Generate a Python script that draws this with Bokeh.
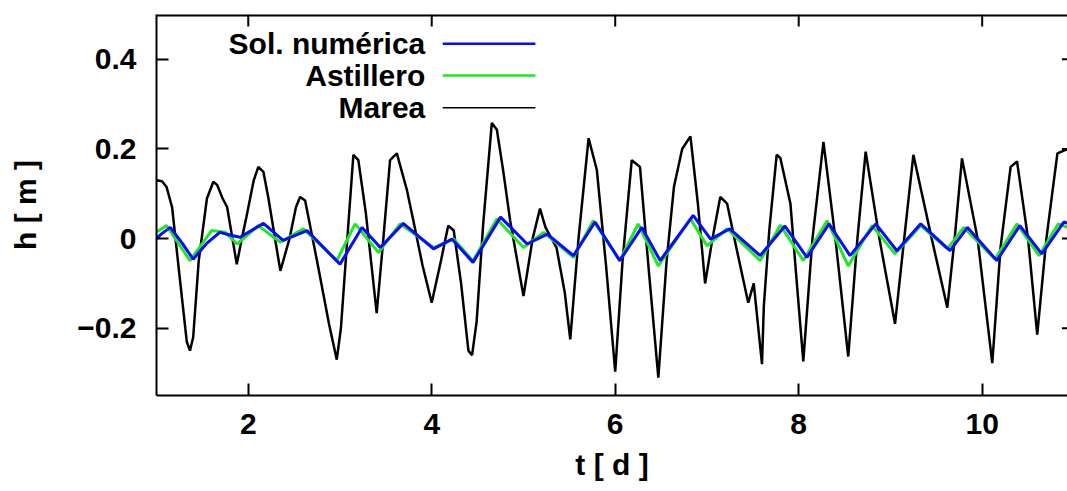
from bokeh.plotting import figure
from bokeh.models import Range1d, FixedTicker, LinearAxis, Label
from bokeh.embed import file_html
from bokeh.resources import INLINE

# ---------------- data ----------------
t_marea = [1.0, 1.06, 1.11, 1.17, 1.26, 1.33, 1.365, 1.40, 1.46, 1.55, 1.62, 1.66, 1.72, 1.77,
           1.875, 1.93, 1.98, 2.06, 2.11, 2.165, 2.22, 2.35, 2.45, 2.52, 2.565, 2.62, 2.75, 2.88,
           2.965, 3.01, 3.08, 3.146, 3.2, 3.28, 3.40, 3.46, 3.546, 3.62, 3.66, 3.73, 3.80, 3.90,
           4.0, 4.10, 4.18, 4.24, 4.32, 4.40, 4.44, 4.49, 4.56, 4.655, 4.71, 4.78, 4.855, 5.0,
           5.1, 5.18, 5.24, 5.36, 5.45, 5.51, 5.6, 5.71, 5.80, 5.9, 6.0, 6.08, 6.18, 6.27, 6.37,
           6.47, 6.56, 6.64, 6.73, 6.82, 6.9, 6.98, 7.06, 7.145, 7.22, 7.32, 7.45, 7.51, 7.56,
           7.60, 7.62, 7.68, 7.76, 7.80, 7.91, 7.98, 8.05, 8.15, 8.27, 8.40, 8.54, 8.64, 8.73,
           8.88, 9.05, 9.15, 9.25, 9.45, 9.62, 9.70, 9.78, 9.95, 10.11, 10.20, 10.31, 10.38,
           10.5, 10.60, 10.70, 10.82, 10.91, 11.0]
h_marea = [0.13, 0.128, 0.115, 0.07, -0.10, -0.23, -0.25, -0.22, -0.05, 0.09, 0.127, 0.12, 0.09, 0.07,
           -0.057, 0.0, 0.048, 0.13, 0.16, 0.149, 0.09, -0.072, 0.0, 0.07, 0.093, 0.085, -0.05, -0.19,
           -0.27, -0.2, 0.0, 0.187, 0.175, 0.06, -0.166, -0.03, 0.175, 0.19, 0.16, 0.108, 0.04, -0.06,
           -0.143, -0.05, 0.029, 0.018, -0.10, -0.25, -0.26, -0.184, 0.03, 0.258, 0.243, 0.15, 0.04, -0.128,
           0.0, 0.067, 0.025, -0.02, -0.12, -0.225, 0.0, 0.224, 0.153, -0.06, -0.297, -0.05, 0.175, 0.16, -0.08,
           -0.31, -0.05, 0.115, 0.2, 0.228, 0.08, -0.10, 0.0, 0.093, 0.078, -0.02, -0.143, -0.10, -0.2,
           -0.28, -0.15, 0.02, 0.187, 0.18, 0.078, -0.1, -0.274, 0.0, 0.216, 0.0, -0.263, 0.0, 0.194,
           0.0, -0.19, 0.0, 0.187, 0.0, -0.154, 0.0, 0.179, 0.0, -0.278, -0.02, 0.16, 0.172,
           0.0, -0.214, 0.0, 0.19, 0.198, 0.2]

t_num = [1.0, 1.05, 1.15, 1.28, 1.40, 1.55, 1.69, 1.80, 1.91, 2.165, 2.38, 2.64, 3.0, 3.24, 3.44,
         3.69, 4.02, 4.22, 4.45, 4.75, 5.04, 5.26, 5.545, 5.78, 6.05, 6.29, 6.49, 6.85, 7.04, 7.25,
         7.58, 7.85, 8.09, 8.33, 8.56, 8.84, 9.07, 9.33, 9.65, 9.84, 10.16, 10.41, 10.65, 10.89, 11.0]
h_num = [0.0, 0.01, 0.025, -0.01, -0.046, -0.01, 0.014, 0.008, 0.003, 0.034, -0.004, 0.018, -0.057, 0.025, -0.02,
         0.034, -0.023, -0.001, -0.053, 0.048, -0.012, 0.01, -0.038, 0.037, -0.049, 0.025, -0.049, 0.052, -0.001, 0.022,
         -0.038, 0.028, -0.042, 0.033, -0.038, 0.033, -0.027, 0.033, -0.027, 0.025, -0.049, 0.029, -0.034, 0.037, 0.03]

t_ast = [1.0, 1.11, 1.365, 1.60, 1.75, 1.88, 2.11, 2.35, 2.60, 2.965, 3.165, 3.42, 3.655, 4.02, 4.24,
         4.45, 4.71, 5.0, 5.22, 5.545, 5.76, 6.05, 6.25, 6.47, 6.82, 7.0, 7.22, 7.58, 7.80, 8.05,
         8.31, 8.54, 8.80, 9.05, 9.33, 9.62, 9.80, 10.14, 10.38, 10.62, 10.83, 11.0]
h_ast = [0.015, 0.029, -0.049, 0.018, 0.014, -0.012, 0.029, -0.008, 0.022, -0.049, 0.033, -0.031, 0.033, -0.02, -0.001,
         -0.05, 0.044, -0.02, 0.014, -0.042, 0.04, -0.049, 0.033, -0.061, 0.044, -0.016, 0.022, -0.049, 0.03, -0.049,
         0.04, -0.061, 0.029, -0.034, 0.029, -0.023, 0.025, -0.046, 0.033, -0.038, 0.033, 0.02]

x_ticks = [2, 4, 6, 8, 10]
y_ticks = [-0.2, 0, 0.2, 0.4]
y_tick_labels = {-0.2: "\u22120.2", 0: "0", 0.2: "0.2", 0.4: "0.4"}
series_names = ["Sol. numérica", "Astillero", "Marea"]
x_title = "t [ d ]"
y_title = "h [ m ]"

# ---------------- style / layout ----------------
FONT = "Liberation Sans"
FS = "30px"
C_NUM = "#0a0aff"
C_AST = "#1ee81e"
C_MAR = "#000000"
X_LO, X_HI_FULL, X_VIEW = 1, 11, 10.93
Y_LO, Y_HI = -0.35, 0.5
TICK_LEN_Y = 0.0268   # ~12 px in data units
TICK_LEN_X = 0.131    # ~12 px in data units

p = figure(width=1067, height=491, output_backend="svg", toolbar_location=None,
           x_range=Range1d(X_LO, X_VIEW), y_range=Range1d(Y_LO, Y_HI),
           min_border_left=156, min_border_right=0, min_border_top=14, min_border_bottom=96,
           x_axis_location=None, y_axis_location=None)
p.outline_line_color = None
p.grid.visible = False
p.background_fill_color = "white"
p.border_fill_color = "white"


def style_axis(ax):
    ax.axis_line_color = "black"
    ax.axis_line_width = 2
    ax.major_tick_line_color = "black"
    ax.major_tick_line_width = 2
    ax.major_tick_in = 12
    ax.major_tick_out = 0
    ax.minor_tick_line_color = None
    ax.major_label_text_font = FONT
    ax.major_label_text_font_size = FS
    ax.major_label_text_font_style = "bold"
    ax.major_label_text_color = "black"
    ax.axis_label_text_font = FONT
    ax.axis_label_text_font_size = FS
    ax.axis_label_text_font_style = "bold"
    ax.axis_label_text_color = "black"


xb = LinearAxis(ticker=FixedTicker(ticks=x_ticks), axis_label=x_title)
style_axis(xb)
xb.major_label_standoff = 18
xb.axis_label_standoff = 11
p.add_layout(xb, "below")

yl = LinearAxis(ticker=FixedTicker(ticks=y_ticks), axis_label=y_title)
style_axis(yl)
yl.major_label_standoff = 20
yl.major_label_overrides = y_tick_labels
yl.axis_label_standoff = 32
p.add_layout(yl, "left")

# mirror border (top) and inward mirror ticks (top and right), gnuplot style
p.segment(x0=[X_LO], y0=[Y_HI], x1=[X_HI_FULL], y1=[Y_HI], line_color="black", line_width=4)
p.segment(x0=x_ticks, y0=[Y_HI] * len(x_ticks), x1=x_ticks, y1=[Y_HI - TICK_LEN_Y] * len(x_ticks),
          line_color="black", line_width=2)
p.segment(x0=[X_HI_FULL - TICK_LEN_X] * len(y_ticks), y0=y_ticks, x1=[X_HI_FULL] * len(y_ticks), y1=y_ticks,
          line_color="black", line_width=2)

# ---------------- series ----------------
p.line(t_marea, h_marea, line_color=C_MAR, line_width=2.5)
p.line(t_ast, h_ast, line_color=C_AST, line_width=3)
p.line(t_num, h_num, line_color=C_NUM, line_width=3)

# ---------------- legend (gnuplot style: text left, sample right) ----------------
LEG_TEXT_X = 3.93
LEG_X0, LEG_X1 = 4.12, 5.13
LEG_ROWS = [0.435, 0.364, 0.292]
leg_colors = [C_NUM, C_AST, C_MAR]
leg_widths = [2.5, 2.5, 1.5]
for name, yy, col, lw in zip(series_names, LEG_ROWS, leg_colors, leg_widths):
    p.add_layout(Label(x=LEG_TEXT_X, y=yy, text=name, text_align="right", text_baseline="middle",
                       text_font=FONT, text_font_size=FS, text_font_style="bold", text_color="black"))
    p.line([LEG_X0, LEG_X1], [yy, yy], line_color=col, line_width=lw)

open("out.html", "w").write(file_html(p, INLINE))
